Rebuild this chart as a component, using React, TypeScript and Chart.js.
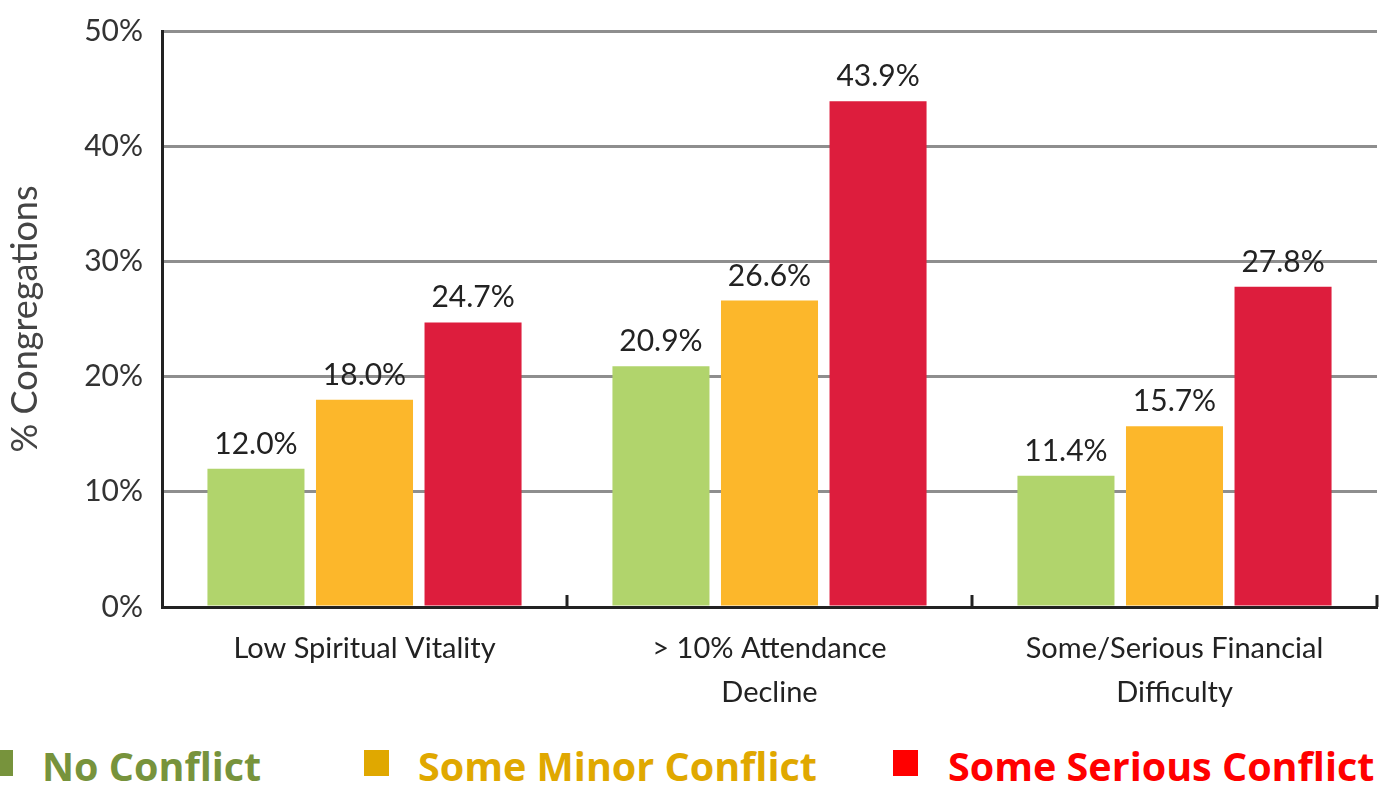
import React, { useEffect, useRef } from "react";
import { Chart, registerables } from "chart.js";

Chart.register(...registerables);

const categories: string[][] = [
  ["Low Spiritual Vitality"],
  ["> 10% Attendance", "Decline"],
  ["Some/Serious Financial", "Difficulty"],
];
const seriesNames = ["No Conflict", "Some Minor Conflict", "Some Serious Conflict"];
const noConflict = [12.0, 20.9, 11.4];
const minorConflict = [18.0, 26.6, 15.7];
const seriousConflict = [24.7, 43.9, 27.8];
const yTicks = [0, 10, 20, 30, 40, 50];

const barColors = ["#B1D46C", "#FCB72B", "#DD1D3D"];
const legendColors = ["#77933C", "#E0A800", "#FF0000"];

const FONT = "Lato, 'Open Sans', sans-serif";

const valueLabels = {
  id: "valueLabels",
  afterDatasetsDraw(chart: any) {
    const ctx = chart.ctx;
    ctx.save();
    ctx.font = `30px ${FONT}`;
    ctx.fillStyle = "#222";
    ctx.textAlign = "center";
    ctx.textBaseline = "alphabetic";
    chart.data.datasets.forEach((ds: any, di: number) => {
      const meta = chart.getDatasetMeta(di);
      meta.data.forEach((bar: any, i: number) => {
        ctx.fillText(ds.data[i].toFixed(1) + "%", bar.x, bar.y - 15);
      });
    });
    ctx.restore();
  },
};

const boundaryTicks = {
  id: "boundaryTicks",
  afterDraw(chart: any) {
    const x = chart.scales.x;
    const ctx = chart.ctx;
    const bottom = chart.chartArea.bottom;
    ctx.save();
    ctx.strokeStyle = "#222";
    ctx.lineWidth = 3;
    const step = x.getPixelForValue(1) - x.getPixelForValue(0);
    for (let i = 0; i < categories.length; i++) {
      const px = x.getPixelForValue(i) + step / 2;
      ctx.beginPath();
      ctx.moveTo(px, bottom);
      ctx.lineTo(px, bottom - 12);
      ctx.stroke();
    }
    ctx.restore();
  },
};

export default function App() {
  const ref = useRef<HTMLCanvasElement>(null);
  useEffect(() => {
    document.body.style.margin = "0";
    const chart = new Chart(ref.current!, {
      type: "bar",
      data: {
        labels: categories as any,
        datasets: [noConflict, minorConflict, seriousConflict].map((d, i) => ({
          label: seriesNames[i],
          data: d,
          backgroundColor: barColors[i],
          borderWidth: 0,
          categoryPercentage: 0.804,
          barPercentage: 0.894,
        })),
      },
      options: {
        animation: false,
        responsive: false,
        layout: { padding: { top: 31, right: 5, left: 0, bottom: 0 } },
        plugins: { legend: { display: false }, tooltip: { enabled: false } },
        scales: {
          x: {
            grid: { display: false },
            border: { display: true, color: "#222", width: 3 },
            ticks: {
              font: { family: FONT, size: 29, lineHeight: 1.52 },
              color: "#222",
              padding: 12,
              maxRotation: 0,
            },
            afterFit(scale: any) {
              scale.height = 123;
            },
          },
          y: {
            min: 0,
            max: 50,
            afterBuildTicks(scale: any) {
              scale.ticks = yTicks.map((v) => ({ value: v }));
            },
            grid: { color: "#8e8e8e", lineWidth: 3, drawTicks: false },
            border: { display: true, color: "#222", width: 3 },
            ticks: {
              font: { family: FONT, size: 30 },
              color: "#333",
              padding: 19,
              callback: (v: any) => v + "%",
            },
            title: {
              display: true,
              text: "% Congregations",
              font: { family: FONT, size: 36 },
              color: "#444",
              padding: { top: 4, bottom: 0 },
            },
            afterFit(scale: any) {
              scale.width = 162;
              scale.paddingTop = 0;
              scale.paddingBottom = 0;
            },
          },
        },
      },
      plugins: [valueLabels, boundaryTicks],
    });
    return () => chart.destroy();
  }, []);

  const legendPos = [
    { box: -12, text: 42 },
    { box: 364, text: 418 },
    { box: 893, text: 948 },
  ];

  return (
    <div style={{ position: "relative", width: 1382, height: 785, overflow: "hidden", background: "#fff" }}>
      <canvas ref={ref} width={1382} height={730} style={{ display: "block" }} />
      {seriesNames.map((n, i) => (
        <React.Fragment key={n}>
          <div
            style={{
              position: "absolute",
              left: legendPos[i].box,
              top: 750,
              width: 25,
              height: 26,
              background: legendColors[i],
            }}
          />
          <div
            style={{
              position: "absolute",
              left: legendPos[i].text,
              top: 739,
              fontFamily: "'Open Sans', sans-serif",
              fontWeight: 700,
              fontSize: 39.5,
              lineHeight: "54px",
              color: legendColors[i],
              whiteSpace: "nowrap",
            }}
          >
            {n}
          </div>
        </React.Fragment>
      ))}
    </div>
  );
}
